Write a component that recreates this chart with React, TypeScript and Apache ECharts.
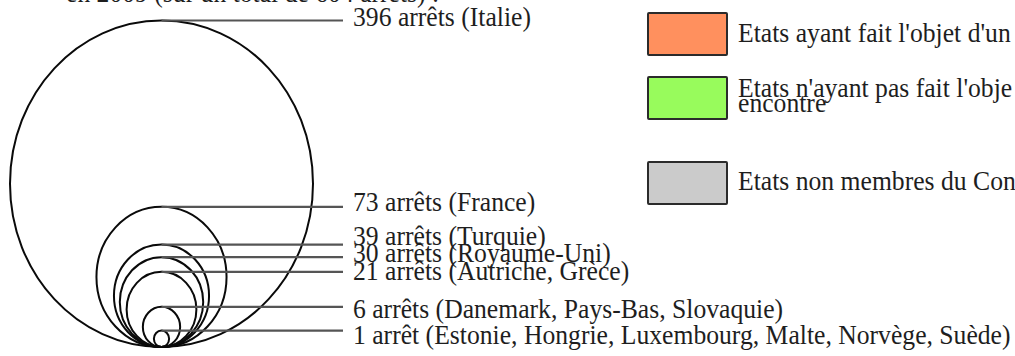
import React, { useEffect, useRef } from "react";
import * as echarts from "echarts";

// Number of judgments per state (proportional circles, area ∝ value)
const judgmentCounts = [396, 73, 39, 30, 21, 6, 1];
const stateNames = [
  "Italie",
  "France",
  "Turquie",
  "Royaume-Uni",
  "Autriche, Grèce",
  "Danemark, Pays-Bas, Slovaquie",
  "Estonie, Hongrie, Luxembourg, Malte, Norvège, Suède",
];

// Legend entries, as far as the strip shows them
const legendLabels = [
  ["Etats ayant fait l'objet d'un"],
  ["Etats n'ayant pas fait l'obje", "encontre"],
  ["Etats non membres du Con"],
];
const legendColors = ["#ff905e", "#98fb5c", "#cbcbcb"];

// Layout
const FONT = "'Liberation Serif', 'Times New Roman', serif";
const FONT_SIZE = 27;
const TEXT_SCALE_X = 0.95;
const LEADER_END_X = 343;
const LABEL_X = 353;
// vertical nudges that keep crowded labels apart
const labelNudges = [-3, -4.5, -8.5, -3.5, -1, 2, 5];

const labelText = (v: number, names: string) =>
  `${v} ${v > 1 ? "arrêts" : "arrêt"} (${names})`;

const total = judgmentCounts.reduce(
  (s, v, i) => s + v * stateNames[i].split(", ").length,
  0
);

export default function App() {
  const ref = useRef<HTMLDivElement>(null);

  useEffect(() => {
    document.body.style.margin = "0";
    if (!ref.current) return;
    const chart = echarts.init(ref.current, null, { renderer: "svg" });
    const R = Math.sqrt(Math.max(...judgmentCounts));

    const legendGraphics: any[] = [];
    const boxTops = [13, 77, 162];
    const textRows = [[33], [88, 103], [181]];
    legendLabels.forEach((lines, i) => {
      legendGraphics.push({
        type: "rect",
        shape: { x: 648, y: boxTops[i], width: 79, height: 42, r: 1 },
        style: { fill: legendColors[i], stroke: "#2b2b2b", lineWidth: 2 },
        silent: true,
      });
      lines.forEach((ln, j) => {
        legendGraphics.push({
          type: "text",
          x: 738,
          y: textRows[i][j],
          scaleX: TEXT_SCALE_X,
          style: {
            text: ln,
            fontFamily: FONT,
            fontSize: FONT_SIZE,
            fill: "#1e1e1e",
            align: "left",
            verticalAlign: "middle",
          },
          silent: true,
        });
      });
    });

    // heading line, running off the top edge
    legendGraphics.push({
      type: "text",
      x: 66,
      y: -7,
      scaleX: TEXT_SCALE_X,
      style: {
        text: `en 2009 (sur un total de ${total} arrêts) :`,
        fontFamily: FONT,
        fontSize: FONT_SIZE,
        fill: "#1e1e1e",
        align: "left",
        verticalAlign: "middle",
      },
      silent: true,
    });

    chart.setOption({
      animation: false,
      backgroundColor: "#ffffff",
      grid: { left: 10, top: 20.5, width: 303, height: 326.5 },
      xAxis: { type: "value", min: -R, max: R, show: false },
      yAxis: { type: "value", min: 0, max: 2 * R, show: false },
      graphic: legendGraphics,
      series: [
        {
          type: "custom",
          silent: true,
          clip: false,
          data: judgmentCounts.map((v, i) => [v, i]),
          renderItem: (params: any, api: any) => {
            const v = api.value(0);
            const i = api.value(1);
            const r = Math.sqrt(v);
            const c = api.coord([0, r]);
            const top = api.coord([0, 2 * r]);
            const rx = api.size([r, 0])[0];
            const ry = api.size([0, r])[1];
            return {
              type: "group",
              children: [
                {
                  type: "ellipse",
                  shape: { cx: c[0], cy: c[1], rx, ry },
                  style: { fill: "none", stroke: "#0a0a0a", lineWidth: 2 },
                },
                {
                  type: "line",
                  shape: { x1: top[0], y1: top[1], x2: LEADER_END_X, y2: top[1] },
                  style: { stroke: "#555555", lineWidth: 2.2 },
                },
                {
                  type: "text",
                  x: LABEL_X,
                  y: top[1] + labelNudges[i],
                  scaleX: TEXT_SCALE_X,
                  style: {
                    text: labelText(v, stateNames[i]),
                    fontFamily: FONT,
                    fontSize: FONT_SIZE,
                    fill: "#1e1e1e",
                    align: "left",
                    verticalAlign: "middle",
                  },
                },
              ],
            };
          },
        },
      ],
    });

    return () => chart.dispose();
  }, []);

  return <div ref={ref} style={{ width: 1015, height: 356 }} />;
}
